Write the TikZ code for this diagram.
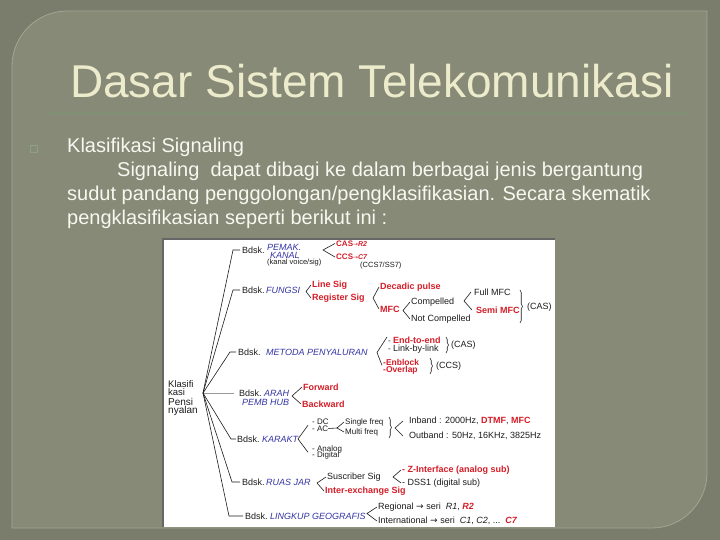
\documentclass[tikz,border=0pt]{standalone}
\usepackage{fontspec}
\setmainfont{Liberation Sans}
\newfontfamily\dv{DejaVu Sans}
\usetikzlibrary{decorations.pathreplacing,calc}
\definecolor{outerbg}{HTML}{7A7D6C}
\definecolor{panelbg}{HTML}{878A77}
\definecolor{panelline}{HTML}{A4A692}
\definecolor{titlec}{HTML}{ECEBCB}
\definecolor{rulec}{HTML}{7E9173}
\definecolor{bodyc}{HTML}{F8F8F0}
\definecolor{bulletc}{HTML}{8FA086}
\definecolor{framec}{HTML}{666666}
\definecolor{ink}{HTML}{1C1C1C}
\definecolor{redc}{HTML}{D41E28}
\definecolor{bluec}{HTML}{3434A6}
\definecolor{grayl}{HTML}{9A9A9A}
\begin{document}
\begin{tikzpicture}[x=1pt,y=-1pt,
  title/.style={inner sep=0pt, anchor=base west, text=titlec, font=\fontsize{46}{50}\selectfont},
  body/.style={inner sep=0pt, anchor=base west, text=bodyc, font=\fontsize{20}{24}\selectfont},
  tx/.style={inner sep=0pt, anchor=west, text=ink, font=\fontsize{9}{10}\selectfont},
  sm/.style={tx, font=\fontsize{8}{8}\selectfont},
  xs/.style={tx, font=\fontsize{7.5}{8}\selectfont},
  rd/.style={tx, text=redc, font=\fontsize{9}{10}\selectfont\bfseries},
  bu/.style={tx, text=bluec, font=\fontsize{9}{10}\selectfont\itshape},
  rt/.style={inner sep=0pt, anchor=base west, text=ink, font=\fontsize{9.5}{10}\selectfont},
  br/.style={draw=ink, line width=0.6pt},
  brc/.style={draw=ink, line width=0.6pt, decorate, decoration={brace, amplitude=2.5pt}},
]
\useasboundingbox (0,0) rectangle (720,540);
\fill[outerbg] (0,0) rectangle (720,540);
\filldraw[fill=panelbg, draw=panelline, line width=0.8pt]
  (12,66) .. controls (12,36) and (37,11) .. (67,11) -- (707,11) -- (707,473)
  .. controls (707,503) and (682,528) .. (652,528) -- (12,528) -- cycle;

% title
\node[title] (title) at (70,98) {Dasar Sistem Telekomunikasi};
\draw[rulec, line width=2pt] (47,113) -- (690,113);

% body
\node[draw=bulletc, line width=0.6pt, minimum size=7pt, inner sep=0pt] (bullet) at (33.5,148.5) {};
\node[body] (l1) at (67,153) {Klasifikasi Signaling};
\node[body] (l2) at (117,177) {Signaling\ \ dapat dibagi ke dalam berbagai jenis bergantung};
\node[body] (l3) at (67,201) {sudut pandang penggolongan/pengklasifikasian. Secara skematik};
\node[body] (l4) at (67,225) {pengklasifikasian seperti berikut ini :};

% image
\fill[white] (163,239) rectangle (555,527);
\draw[framec, line width=1.2pt] (163,527) -- (163,239) -- (555,239);

% root
\node[rt] (k1) at (168,387) {Klasifi};
\node[rt] (k2) at (168,395) {kasi};
\node[rt, font=\fontsize{10}{10}\selectfont] (k3) at (168,405) {Pensi};
\node[rt, font=\fontsize{10}{10}\selectfont] (k4) at (168,413.5) {nyalan};
\coordinate (ra) at (203,393);

% branch 1
\node[tx] (b1) at (242,250) {Bdsk.};
\node[bu] (pem) at (267,247) {PEMAK.};
\node[bu] (kan) at (270,255) {KANAL};
\node[xs] (kv) at (267,263) {(kanal voice/sig)};
\node[tx, text=redc, font=\fontsize{8}{9}\selectfont\bfseries] (cas) at (336,243.5) {CAS{\dv\mdseries\fontsize{6}{6}\selectfont →}{\fontsize{7}{7}\selectfont\itshape R2}};
\node[tx, text=redc, font=\fontsize{8}{9}\selectfont\bfseries] (ccs) at (336,257) {CCS{\dv\mdseries\fontsize{6}{6}\selectfont →}{\fontsize{7}{7}\selectfont\itshape C7}};
\node[xs] (ccs7) at (360,265.5) {(CCS7/SS7)};
\draw[br] (ra) -- (233,250) -- ([xshift=-2pt]b1.west);
\coordinate (a1) at (323,250);
\draw[br] ([xshift=-1pt]cas.west) -- (a1) -- ([xshift=-1pt]ccs.west);

% branch 2
\node[tx] (b2) at (242,290) {Bdsk.};
\node[bu] (fun) at (266,290) {FUNGSI};
\draw[br] (ra) -- (233,290) -- ([xshift=-2pt]b2.west);
\node[rd] (line) at (312,285) {Line Sig};
\node[rd] (reg) at (312,298) {Register Sig};
\coordinate (a2) at (306,291.5);
\draw[br] ([xshift=-1pt]line.west) -- (a2) -- ([xshift=-1pt]reg.west);
\node[rd] (dec) at (380,287) {Decadic pulse};
\node[rd] (mfc) at (380,309) {MFC};
\coordinate (a3) at (373,298);
\draw[br] ([xshift=-1pt]dec.west) -- (a3) -- ([xshift=-1pt]mfc.west);
\node[tx] (comp) at (411,302) {Compelled};
\node[tx] (ncomp) at (411,319) {Not Compelled};
\coordinate (a4) at (403,310.5);
\draw[br] ([xshift=-1pt]comp.west) -- (a4) -- ([xshift=-1pt]ncomp.west);
\node[tx] (full) at (474,292) {Full MFC};
\node[rd] (semi) at (476,310) {Semi MFC};
\coordinate (a5) at (464,301);
\draw[br] ([xshift=-3pt]full.west) -- (a5) -- ([xshift=-4pt]semi.west);
\draw[brc] (520,290) -- (520,323);
\node[tx] (cas2) at (527,307) {(CAS)};

% branch 3
\node[tx] (b3) at (238,352) {Bdsk.};
\node[bu] (met) at (266,352) {METODA PENYALURAN};
\draw[br] (ra) -- (230,352) -- ([xshift=-2pt]b3.west);
\node[sm] (e2e) at (388,340.5) {- \textcolor{redc}{\bfseries\fontsize{9}{9}\selectfont End-to-end}};
\node[sm] (lbl) at (388,349.5) {- \fontsize{9}{9}\selectfont Link-by-link};
\node[tx, text=redc, font=\fontsize{8.5}{9}\selectfont\bfseries] (enb) at (383,362) {-Enblock};
\node[tx, text=redc, font=\fontsize{8.5}{9}\selectfont\bfseries] (ovl) at (383,370) {-Overlap};
\coordinate (a6) at (377,352.5);
\draw[br] ([xshift=-1pt]e2e.north west) -- (a6) -- ([xshift=-1pt]enb.south west);
\draw[brc] (446,337) -- (446,353);
\node[tx] (cas3) at (451,345) {(CAS)};
\draw[brc] (430,358) -- (430,374);
\node[tx] (ccs3) at (436,366) {(CCS)};

% branch 4
\node[tx] (b4) at (239,393) {Bdsk.};
\node[bu] (arah) at (264,393) {ARAH};
\node[bu] (pemb) at (242,402) {PEMB HUB};
\draw[grayl, line width=0.9pt] (ra) -- ([xshift=-5pt]b4.west);
\node[rd] (fwd) at (303,387) {Forward};
\node[rd] (bwd) at (302,404) {Backward};
\coordinate (a7) at (292,396);
\draw[br] ([xshift=-1pt]fwd.west) -- (a7) -- ([xshift=-1pt]bwd.west);

% branch 5
\node[tx] (b5) at (237,439) {Bdsk.};
\node[bu] (kar) at (262,439) {KARAKT};
\draw[br] (ra) -- (231,439) -- ([xshift=-1pt]b5.west);
\node[sm] (dc) at (312,422) {- DC};
\node[sm] (ac) at (312,428.5) {- AC};
\node[sm] (ana) at (312,449) {- Analog};
\node[sm] (dig) at (312,455.5) {- Digital};
\coordinate (a8) at (298,439);
\draw[br] ($(dc.west)!0.5!(ac.west)+(-4,0)$) -- (a8) -- ($(ana.west)!0.5!(dig.west)+(-4,0)$);
\node[sm] (sf) at (345,422) {Single freq};
\node[sm] (mf) at (345,432) {Multi freq};
\coordinate (a9) at (337,428);
\draw[br] (ac.east) -- (a9) -- ([xshift=-1pt]sf.west);
\draw[br] (a9) -- ([xshift=-1pt]mf.west);
\draw[brc] (389,417) -- (389,438);
\node[tx] (inb) at (409,421) {Inband : 2000Hz, \textcolor{redc}{\bfseries DTMF}, \textcolor{redc}{\bfseries MFC}};
\node[tx] (outb) at (409,436) {Outband : 50Hz, 16KHz, 3825Hz};
\coordinate (a10) at (395,428);
\draw[br] ([xshift=-6pt]inb.west) -- (a10) -- ([xshift=-6pt]outb.west);

% branch 6
\node[tx] (b6) at (242,482) {Bdsk.};
\node[bu] (ruas) at (266,482) {RUAS JAR};
\draw[br] (ra) -- (232,482) -- ([xshift=-2pt]b6.west);
\node[tx] (sub) at (327,477) {Suscriber Sig};
\node[rd] (inter) at (325,491) {Inter-exchange Sig};
\coordinate (a11) at (317,483);
\draw[br] ([xshift=-1pt]sub.west) -- (a11) -- ([xshift=-1pt]inter.west);
\node[rd] (zif) at (402,470) {- Z-Interface (analog sub)};
\node[tx] (dss) at (402,483) {- DSS1 (digital sub)};
\coordinate (a12) at (393,477);
\draw[br] ([xshift=-1pt]zif.west) -- (a12) -- ([xshift=-1pt]dss.west);

% branch 7
\node[tx] (b7) at (245,516) {Bdsk.};
\node[bu] (ling) at (270,516) {LINGKUP GEOGRAFIS};
\draw[br] (ra) -- (229,516) -- ([xshift=-2pt]b7.west);
\node[tx] (regl) at (378,507) {Regional {\dv →} seri\ \ \textit{R1}, \textcolor{redc}{\bfseries\itshape R2}};
\node[tx] (intl) at (378,521) {International\ {\dv →}\ seri\ \ \textit{C1},\ \textit{C2},\ ...\ \ \textcolor{redc}{\bfseries\itshape C7}};
\coordinate (a13) at (367,513.5);
\draw[br] ([xshift=-1pt]regl.west) -- (a13) -- ([xshift=-1pt]intl.west);
\end{tikzpicture}
\end{document}
